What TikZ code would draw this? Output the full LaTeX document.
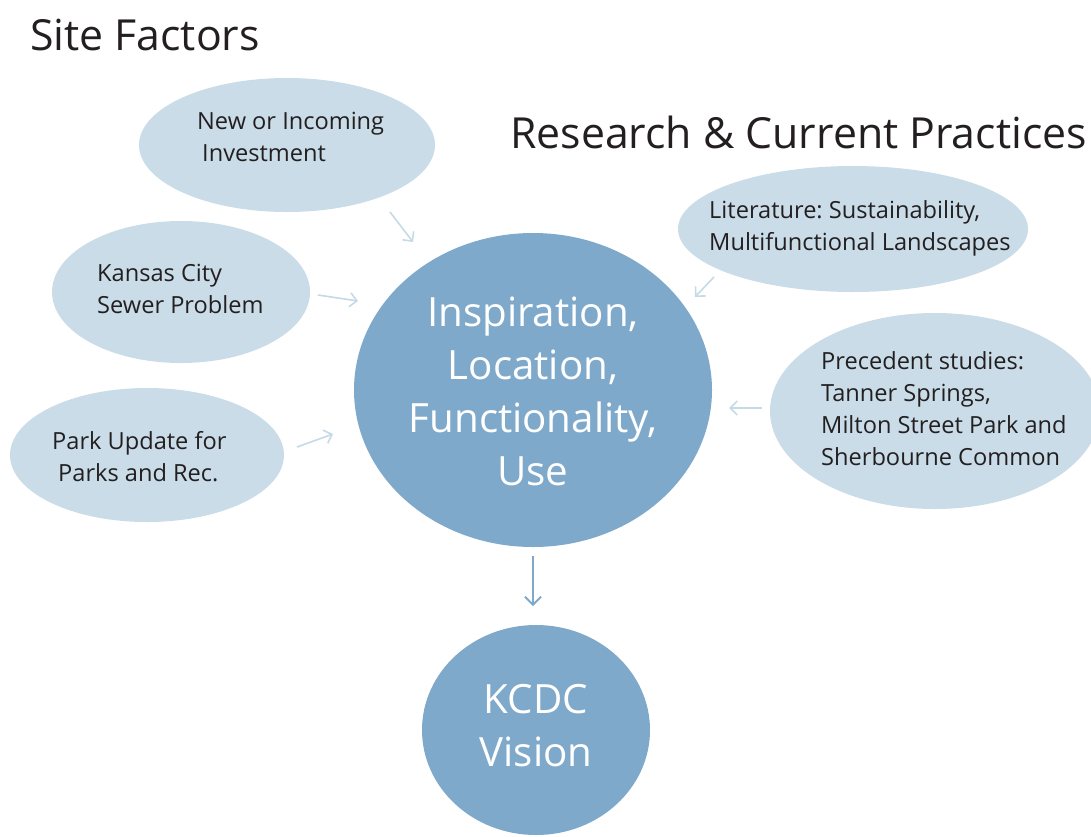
\documentclass[tikz,border=0pt]{standalone}
\usepackage{fontspec}
\setmainfont{Open Sans}
\frenchspacing
\usetikzlibrary{shapes.geometric,arrows.meta}
\definecolor{lightblob}{HTML}{C9DCE8}
\definecolor{bigblob}{HTML}{7FA9CB}
\definecolor{arrowlight}{HTML}{C5DAE7}
\definecolor{txt}{HTML}{231F20}
\tikzset{
  blob/.style={ellipse, fill=lightblob, draw=none, inner sep=0pt},
  bigcircle/.style={ellipse, fill=bigblob, draw=none, inner sep=0pt},
  lbl/.style={anchor=west, text=txt, font=\fontsize{23.6}{32}\selectfont, align=left, inner sep=0pt},
  biglbl/.style={text=white, font=\fontsize{40.3}{53}\selectfont, align=center, inner sep=0pt},
  title/.style={anchor=base west, text=txt, font=\fontsize{42.8}{50}\selectfont, inner sep=0pt},
  feed/.style={draw=arrowlight, line width=1.6pt, -{Straight Barb[length=7pt,width=14pt]}},
  down/.style={draw=bigblob, line width=1.8pt, -{Straight Barb[length=8pt,width=16pt]}}
}
\begin{document}
\begin{tikzpicture}[x=1pt,y=-1pt]
\useasboundingbox (0,0) rectangle (1091,836);
\clip (0,0) rectangle (1091,836);
% titles
\node[title] (t1) at (30,50) {Site Factors};
\node[title] (t2) at (510,148) {Research \& Current Practices};
% ellipses
\node[blob, minimum width=296pt, minimum height=134pt] (e1) at (287,145) {};
\node[blob, minimum width=258pt, minimum height=142pt] (e2) at (181,292) {};
\node[blob, minimum width=274pt, minimum height=134pt] (e3) at (147,455) {};
\node[blob, minimum width=350pt, minimum height=126pt] (e4) at (853,229) {};
\node[blob, minimum width=330pt, minimum height=196pt] (e5) at (935,411) {};
\node[bigcircle, minimum width=358pt, minimum height=314pt] (big) at (533,390) {};
\node[bigcircle, minimum width=228pt, minimum height=210pt] (kc) at (536,730) {};
% labels
\node[lbl] (l1) at (197,137) {New or Incoming\\\hspace*{5pt}Investment};
\node[lbl] (l2) at (97,289) {Kansas City\\Sewer Problem};
\node[lbl] (l3) at (52,457) {Park Update for\\\hspace*{6pt}Parks and Rec.};
\node[lbl] (l4) at (709,228) {Literature: Sustainability,\\Multifunctional Landscapes};
\node[lbl] (l5) at (821,409) {Precedent studies:\\Tanner Springs,\\Milton Street Park and\\Sherbourne Common};
\node[biglbl] (bl) at (533,391) {Inspiration,\\Location,\\Functionality,\\Use};
\node[biglbl] (kl) at (536,726) {KCDC\\Vision};
% arrow end points
\coordinate (a1s) at (390,212); \coordinate (a1e) at (413,242);
\coordinate (a2s) at (318,295); \coordinate (a2e) at (358,301);
\coordinate (a3s) at (297,447); \coordinate (a3e) at (333,434);
\coordinate (a4s) at (714,277); \coordinate (a4e) at (695,297);
\coordinate (a5s) at (762,408); \coordinate (a5e) at (729,408);
\coordinate (a6s) at (533,556); \coordinate (a6e) at (533,606);
\draw[feed] (a1s) -- (a1e);
\draw[feed] (a2s) -- (a2e);
\draw[feed] (a3s) -- (a3e);
\draw[feed] (a4s) -- (a4e);
\draw[feed] (a5s) -- (a5e);
\draw[down] (a6s) -- (a6e);
\end{tikzpicture}
\end{document}
